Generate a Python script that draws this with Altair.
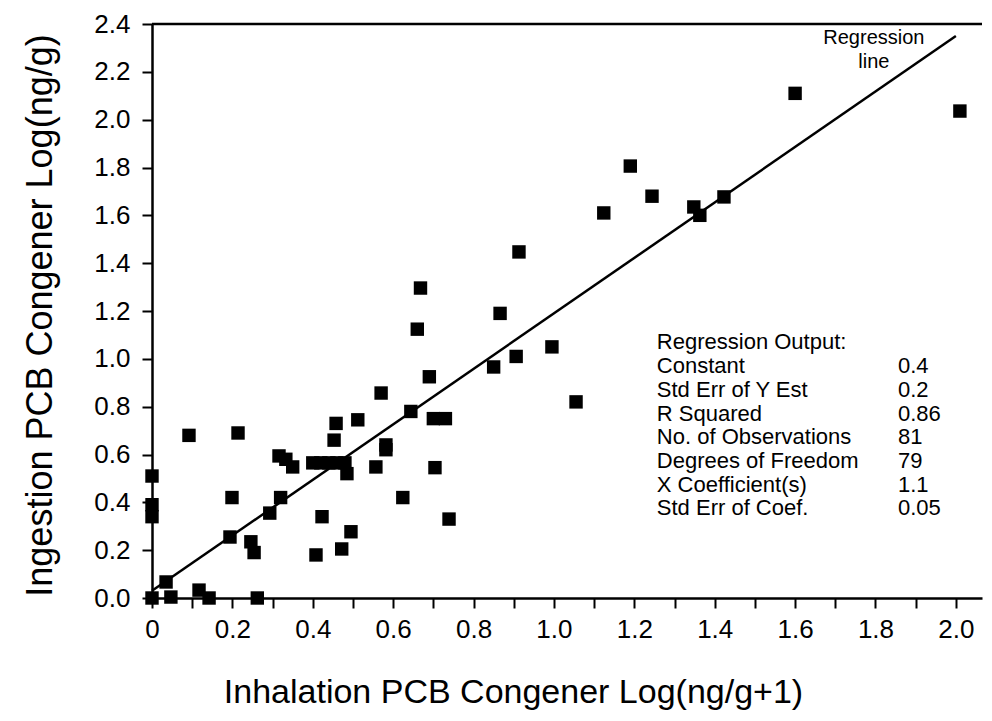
import altair as alt
import pandas as pd

# scatter points (Inhalation x, Ingestion y)
x_vals = [0.0, 0.0, 0.0, 0.0, 0.035, 0.047, 0.117, 0.142, 0.262, 0.092,
          0.214, 0.199, 0.194, 0.246, 0.254, 0.293, 0.32, 0.316, 0.333, 0.35,
          0.40, 0.42, 0.44, 0.46, 0.48, 0.485, 0.423, 0.408, 0.458, 0.453,
          0.512, 0.582, 0.582, 0.557, 0.644, 0.70, 0.73, 0.704, 0.624, 0.739,
          0.495, 0.472, 0.668, 0.66, 0.866, 0.85, 0.906, 0.995, 0.69, 0.57,
          1.055, 0.913, 1.19, 1.244, 1.124, 1.348, 1.363, 1.423, 1.60, 2.01]
y_vals = [0.0, 0.51, 0.39, 0.34, 0.067, 0.004, 0.033, 0.0, 0.0, 0.68,
          0.69, 0.42, 0.255, 0.235, 0.19, 0.355, 0.42, 0.594, 0.58, 0.548,
          0.565, 0.565, 0.565, 0.565, 0.565, 0.52, 0.34, 0.18, 0.73, 0.66,
          0.745, 0.64, 0.62, 0.548, 0.78, 0.75, 0.75, 0.545, 0.42, 0.33,
          0.277, 0.205, 1.296, 1.124, 1.19, 0.966, 1.01, 1.05, 0.925, 0.857,
          0.82, 1.447, 1.806, 1.68, 1.61, 1.635, 1.60, 1.677, 2.11, 2.036]

# regression line end points
line_x = [0.0, 2.0]
line_y = [0.03, 2.35]

# "Regression line" annotation
note_text = ["Regression", "line"]
note_x = [1.796, 1.796]
note_y = [2.341, 2.241]

# regression output table
stat_labels = ["Regression Output:", "Constant", "Std Err of Y Est", "R Squared",
               "No. of Observations", "Degrees of Freedom", "X Coefficient(s)",
               "Std Err of Coef."]
stat_values = ["", "0.4", "0.2", "0.86", "81", "79", "1.1", "0.05"]
stat_y = [1.070, 0.970, 0.870, 0.769, 0.673, 0.573, 0.472, 0.376]
stat_label_x = 1.256
stat_value_x = 1.856

W, H = 830, 574
FONT = "Liberation Sans"

xscale = alt.Scale(domain=[0, 2.065], nice=False, zero=False)
yscale = alt.Scale(domain=[0, 2.4], nice=False, zero=False)

pts = pd.DataFrame({"x": x_vals, "y": y_vals})
points = alt.Chart(pts).mark_square(size=180, color="black", opacity=1).encode(
    x=alt.X("x:Q", scale=xscale, axis=alt.Axis(
        title="Inhalation PCB Congener Log(ng/g+1)",
        values=[round(i * 0.1, 1) for i in range(21)],
        labelExpr="round(datum.value*10) % 2 == 1 ? '' : (datum.value == 0 ? '0' : format(datum.value, '.1f'))",
        tickSize=10, labelPadding=8, labelFontSize=26, labelFont=FONT,
        labelOverlap=False, labelFlush=False,
        titleFont=FONT, titleFontSize=34, titleFontWeight="normal",
        titleX=361, titleY=94, titleBaseline="middle", titleAlign="center",
    )),
    y=alt.Y("y:Q", scale=yscale, axis=alt.Axis(
        title="Ingestion PCB Congener Log(ng/g)",
        values=[round(i * 0.2, 1) for i in range(13)], format=".1f",
        tickSize=10, labelPadding=12, labelFontSize=26, labelFont=FONT,
        labelOverlap=False, labelFlush=False,
        titleFont=FONT, titleFontSize=36, titleFontWeight="normal",
        titleX=-112, titleY=291, titleBaseline="middle", titleAlign="center",
        titleAngle=-90,
    )),
)

reg = alt.Chart(pd.DataFrame({"x": line_x, "y": line_y})).mark_line(
    color="black", strokeWidth=2.5
).encode(x=alt.X("x:Q", scale=xscale), y=alt.Y("y:Q", scale=yscale))

note = alt.Chart(pd.DataFrame({"x": note_x, "y": note_y, "t": note_text})).mark_text(
    font=FONT, fontSize=20, align="center", baseline="middle", color="black"
).encode(x=alt.X("x:Q", scale=xscale), y=alt.Y("y:Q", scale=yscale), text="t:N")

stats = pd.DataFrame({"lab": stat_labels, "val": stat_values, "y": stat_y,
                      "lx": [stat_label_x] * len(stat_y), "vx": [stat_value_x] * len(stat_y)})
stat_lab = alt.Chart(stats).mark_text(
    font=FONT, fontSize=22, align="left", baseline="middle", color="black"
).encode(x=alt.X("lx:Q", scale=xscale), y=alt.Y("y:Q", scale=yscale), text="lab:N")
stat_val = alt.Chart(stats).mark_text(
    font=FONT, fontSize=22, align="left", baseline="middle", color="black"
).encode(x=alt.X("vx:Q", scale=xscale), y=alt.Y("y:Q", scale=yscale), text="val:N")

top = alt.Chart(pd.DataFrame({"a": [0]})).mark_rule(color="black", strokeWidth=2.5).encode(
    x=alt.value(0), x2=alt.value(W), y=alt.value(0)
)

chart = alt.layer(top, reg, points, note, stat_lab, stat_val).properties(
    width=W, height=H,
    autosize=alt.AutoSizeParams(type="none"),
    padding={"left": 144, "top": 16, "right": 2, "bottom": 115},
).configure_view(stroke=None).configure_axis(
    grid=False, domainColor="black", domainWidth=2.5, tickColor="black",
    tickWidth=2, labelColor="black", titleColor="black",
)

chart.save("out.html", embed_options={"renderer": "svg", "actions": False})
